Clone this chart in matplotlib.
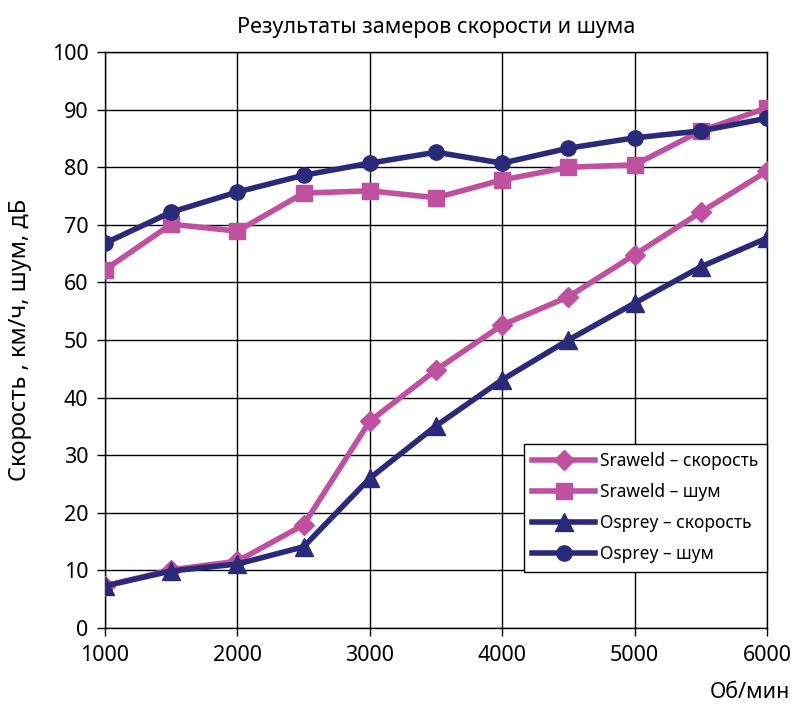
import matplotlib
matplotlib.use("Agg")
import matplotlib.pyplot as plt

plt.rcParams["font.family"] = ["Noto Sans", "DejaVu Sans"]

rpm = [1000, 1500, 2000, 2500, 3000, 3500, 4000, 4500, 5000, 5500, 6000]
sraweld_speed = [7.3, 10.1, 11.6, 17.9, 35.9, 44.8, 52.6, 57.5, 64.8, 72.2, 79.3]
sraweld_noise = [62.2, 70.1, 68.9, 75.5, 75.9, 74.7, 77.8, 80.0, 80.4, 86.3, 90.3]
osprey_speed = [7.3, 9.9, 11.1, 14.1, 26.0, 35.1, 43.1, 50.0, 56.4, 62.7, 67.7]
osprey_noise = [66.8, 72.2, 75.7, 78.6, 80.7, 82.6, 80.7, 83.3, 85.1, 86.3, 88.5]

pink = "#C050A0"
navy = "#2B2A7A"

fig = plt.figure(figsize=(7.95, 7.06), dpi=100)
ax = fig.add_axes([105 / 795, 1 - 628 / 706, (767 - 105) / 795, (628 - 52) / 706])

ax.plot(rpm, sraweld_speed, c=pink, lw=4, marker="D", ms=10, label="Sraweld – скорость", zorder=3)
ax.plot(rpm, sraweld_noise, c=pink, lw=4, marker="s", ms=11, label="Sraweld – шум", zorder=3)
ax.plot(rpm, osprey_speed, c=navy, lw=4, marker="^", ms=13, label="Osprey – скорость", zorder=4)
ax.plot(rpm, osprey_noise, c=navy, lw=4, marker="o", ms=11, label="Osprey – шум", zorder=4)

ax.set_xlim(1000, 6000)
ax.set_ylim(0, 100)
ax.set_xticks([1000, 2000, 3000, 4000, 5000, 6000])
ax.set_yticks(range(0, 101, 10))
ax.grid(True, color="black", lw=1)
ax.set_axisbelow(True)
for s in ax.spines.values():
    s.set_color("black")
    s.set_linewidth(1)
ax.tick_params(labelsize=15.5, length=6, width=1, direction="out", pad=6)

ax.set_title("Результаты замеров скорости и шума", fontsize=15.5, pad=14)
ax.set_ylabel("Скорость , км/ч, шум, дБ", fontsize=17, labelpad=14)
fig.text(790 / 795, 1 - 693 / 706, "Об/мин", ha="right", va="center", fontsize=15.5)

leg = ax.legend(loc="lower right", bbox_to_anchor=(1.0, 0.097), fontsize=12.5, frameon=True,
                fancybox=False, edgecolor="black", framealpha=1, handlelength=3.6,
                borderpad=0.5, labelspacing=0.75, handletextpad=0.3, borderaxespad=0)
leg.get_frame().set_linewidth(1)

fig.savefig("out.png", dpi=100)
